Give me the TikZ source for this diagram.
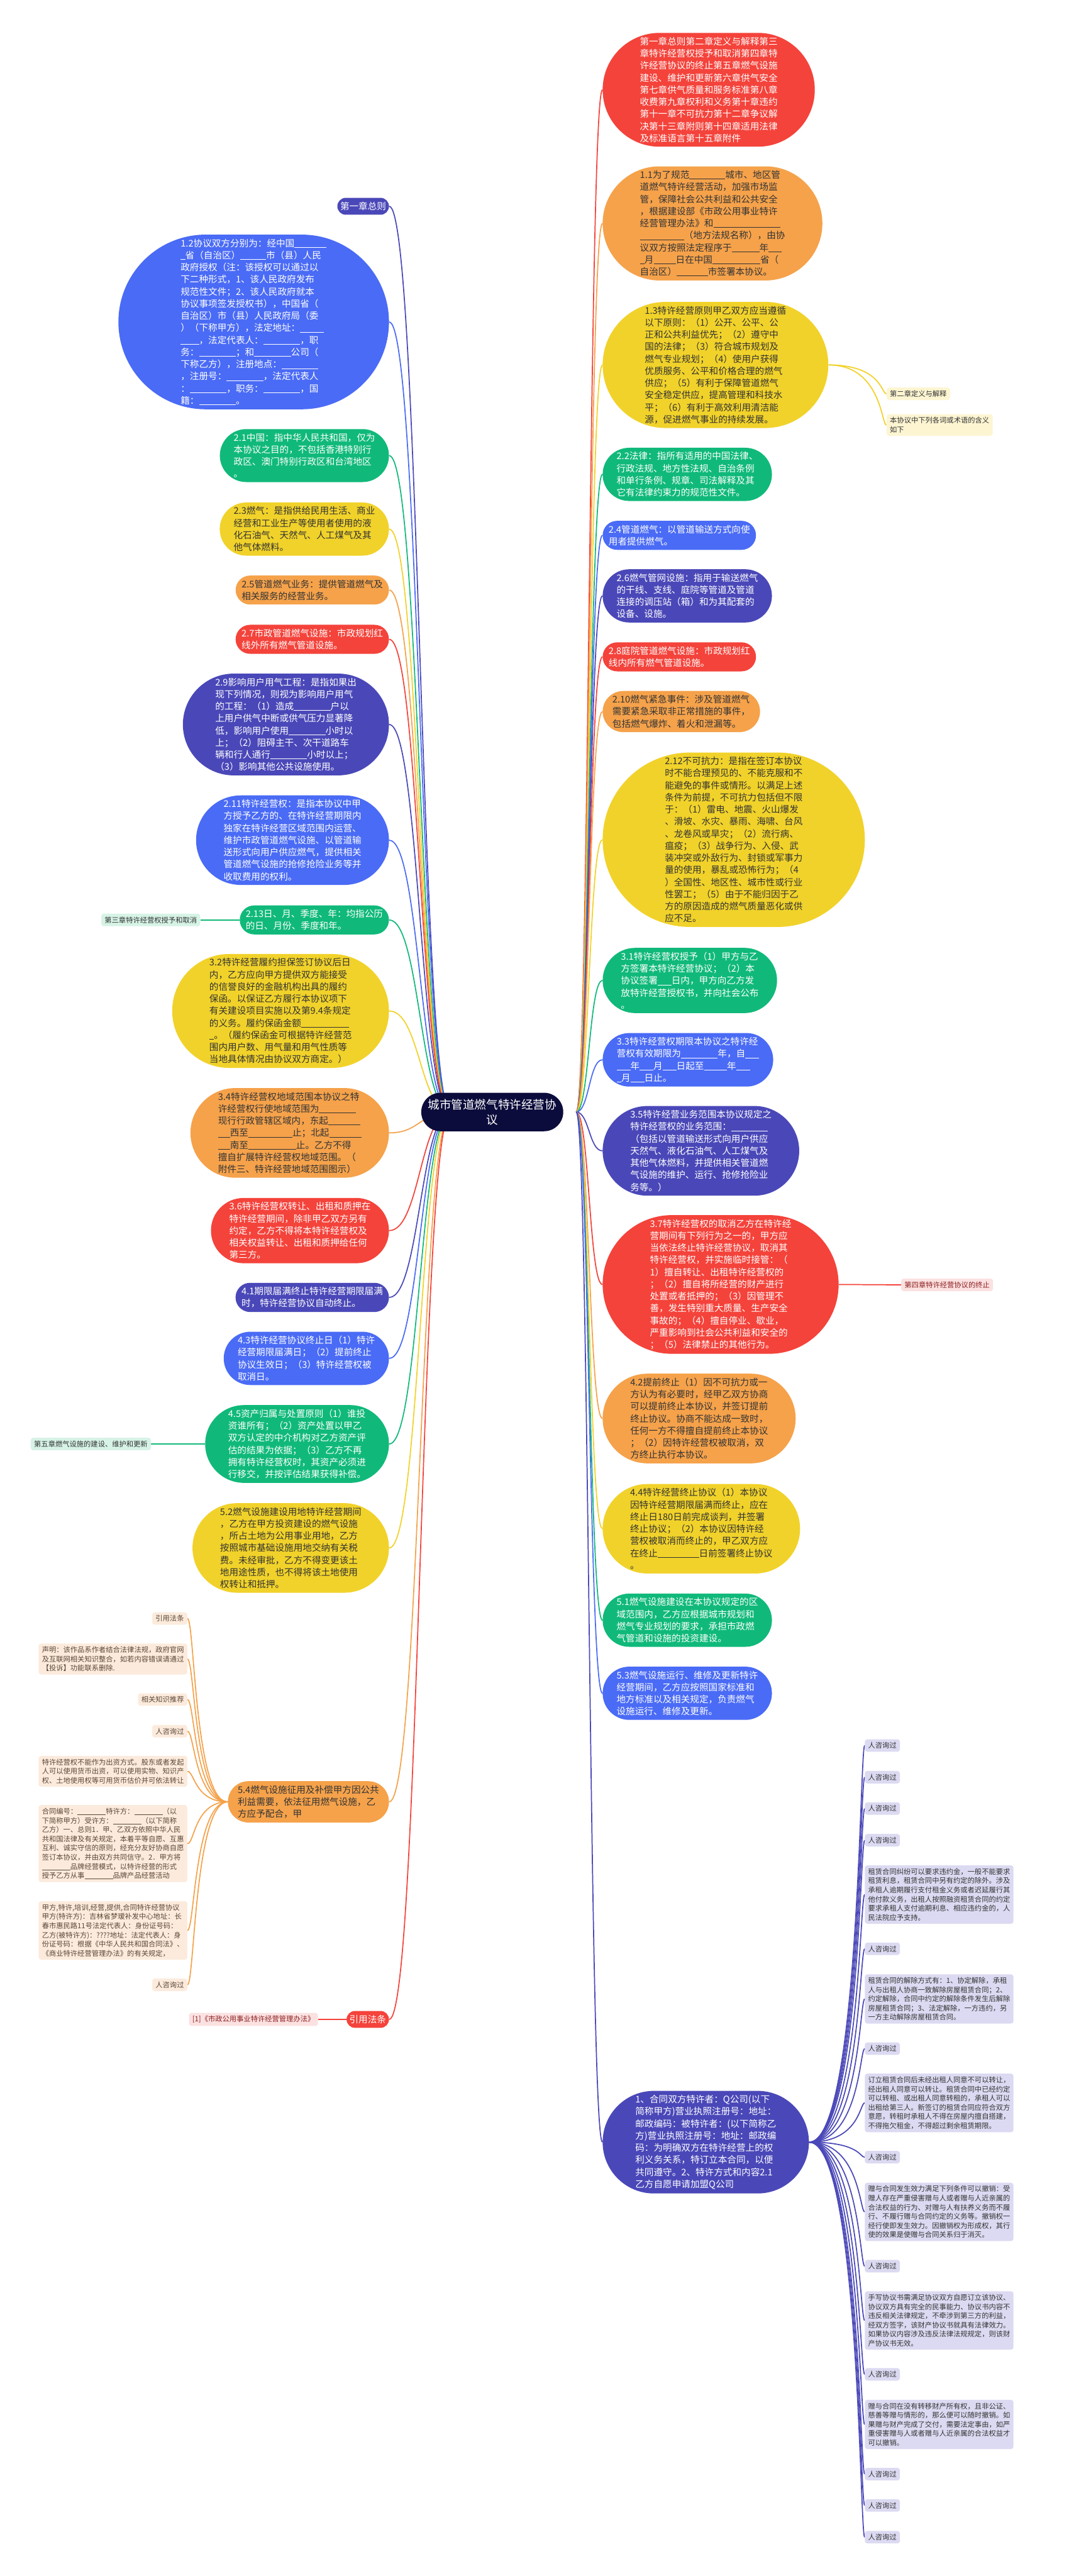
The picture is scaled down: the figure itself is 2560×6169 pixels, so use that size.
\documentclass[tikz,border=0pt]{standalone}
\usepackage{fontspec}
\setmainfont{Noto Sans CJK SC}
\usetikzlibrary{shapes.misc}
\pgfdeclarelayer{bg}
\pgfsetlayers{bg,main}
\definecolor{cred}{HTML}{F4433B}
\definecolor{corange}{HTML}{F5A24B}
\definecolor{cyellow}{HTML}{F1D22A}
\definecolor{cgreen}{HTML}{10B97A}
\definecolor{cblue}{HTML}{4A6BF5}
\definecolor{cindigo}{HTML}{4A48B8}
\definecolor{cnavy}{HTML}{0C0C3C}
\definecolor{txtdark}{HTML}{333333}
\definecolor{peach}{HTML}{FCEBDC}
\definecolor{peachtext}{HTML}{5C4636}
\definecolor{lav}{HTML}{DCDAF2}
\definecolor{pink}{HTML}{FCE1E1}
\definecolor{pinktext}{HTML}{8B1E1E}
\definecolor{mint}{HTML}{D6F3E6}
\definecolor{paleyel}{HTML}{FDF5D2}
\newcommand{\fillin}[1]{\rule[-0.12em]{#1em}{0.06em}}
\begin{document}
\begin{tikzpicture}[x=0.5pt,y=-0.5pt]

\tikzstyle{topic}=[rounded rectangle,inner xsep=2pt,inner ysep=5pt,align=left,font=\fontsize{11}{14.5}\selectfont,text=white];
\tikzstyle{dk}=[text=txtdark];
\tikzstyle{note}=[rounded corners=3pt,inner xsep=4pt,inner ysep=3.5pt,align=left,font=\fontsize{8.5}{11}\selectfont];
\tikzstyle{link}=[line width=1.3pt];

\useasboundingbox (0,0) rectangle (2560,6169);

% centre
\node[topic,fill=cnavy,align=center,inner ysep=7.5pt,font=\fontsize{14}{18}\selectfont] (ctr) at (1179,2663) {城市管道燃气特许经营协\\议};

% right side
\node[topic,fill=cred,anchor=west] (r1) at (1443,215) {第一章总则第二章定义与解释第三\\章特许经营权授予和取消第四章特\\许经营协议的终止第五章燃气设施\\建设、维护和更新第六章供气安全\\第七章供气质量和服务标准第八章\\收费第九章权利和义务第十章违约\\第十一章不可抗力第十二章争议解\\决第十三章附则第十四章适用法律\\及标准语言第十五章附件};
\node[topic,dk,fill=corange,anchor=west] (r2) at (1443,535) {1.1为了规范\fillin{3.9}城市、地区管\\道燃气特许经营活动，加强市场监\\管，保障社会公共利益和公共安全\\，根据建设部《市政公用事业特许\\经营管理办法》和\fillin{7.3}\\\fillin{4.8}（地方法规名称），由协\\议双方按照法定程序于\fillin{3}年\fillin{1.4}\\\fillin{0.5}月\fillin{2.4}日在中国\fillin{5.2}省（\\自治区）\fillin{3.4}市签署本协议。};
\node[topic,dk,fill=cyellow,anchor=west] (r3) at (1443,874) {1.3特许经营原则甲乙双方应当遵循\\以下原则：（1）公开、公平、公\\正和公共利益优先；（2）遵守中\\国的法律；（3）符合城市规划及\\燃气专业规划；（4）使用户获得\\优质服务、公平和价格合理的燃气\\供应；（5）有利于保障管道燃气\\安全稳定供应，提高管理和科技水\\平；（6）有利于高效利用清洁能\\源，促进燃气事业的持续发展。};
\node[topic,fill=cgreen,anchor=west] (r4) at (1443,1136) {2.2法律：指所有适用的中国法律、\\行政法规、地方性法规、自治条例\\和单行条例、规章、司法解释及其\\它有法律约束力的规范性文件。};
\node[topic,fill=cblue,anchor=west] (r5) at (1443,1282) {2.4管道燃气：以管道输送方式向使\\用者提供燃气。};
\node[topic,fill=cindigo,anchor=west] (r6) at (1443,1427) {2.6燃气管网设施：指用于输送燃气\\的干线、支线、庭院等管道及管道\\连接的调压站（箱）和为其配套的\\设备、设施。};
\node[topic,fill=cred,anchor=west] (r7) at (1443,1573) {2.8庭院管道燃气设施：市政规划红\\线内所有燃气管道设施。};
\node[topic,dk,fill=corange,anchor=west] (r8) at (1443,1704) {2.10燃气紧急事件：涉及管道燃气\\需要紧急采取非正常措施的事件，\\包括燃气爆炸、着火和泄漏等。};
\node[topic,dk,fill=cyellow,anchor=west] (r9) at (1443,2011) {2.12不可抗力：是指在签订本协议\\时不能合理预见的、不能克服和不\\能避免的事件或情形。以满足上述\\条件为前提，不可抗力包括但不限\\于：（1）雷电、地震、火山爆发\\、滑坡、水灾、暴雨、海啸、台风\\、龙卷风或旱灾；（2）流行病、\\瘟疫；（3）战争行为、入侵、武\\装冲突或外敌行为、封锁或军事力\\量的使用，暴乱或恐怖行为；（4\\）全国性、地区性、城市性或行业\\性罢工；（5）由于不能归因于乙\\方的原因造成的燃气质量恶化或供\\应不足。};
\node[topic,fill=cgreen,anchor=west] (r10) at (1443,2348) {3.1特许经营权授予（1）甲方与乙\\方签署本特许经营协议；（2）本\\协议签署\fillin{1.5}日内，甲方向乙方发\\放特许经营授权书，并向社会公布\\。};
\node[topic,fill=cblue,anchor=west] (r11) at (1443,2538) {3.3特许经营权期限本协议之特许经\\营权有效期限为\fillin{4}年，自\fillin{1.5}\\\fillin{1.5}年\fillin{1.5}月\fillin{1.5}日起至\fillin{2.5}年\fillin{1.5}\\\fillin{0.5}月\fillin{1.5}日止。};
\node[topic,fill=cindigo,anchor=west] (r12) at (1443,2756) {3.5特许经营业务范围本协议规定之\\特许经营权的业务范围：\fillin{4}\\（包括以管道输送形式向用户供应\\天然气、液化石油气、人工煤气及\\其他气体燃料，并提供相关管道燃\\气设施的维护、运行、抢修抢险业\\务等。）};
\node[topic,fill=cred,anchor=west] (r13) at (1443,3076) {3.7特许经营权的取消乙方在特许经\\营期间有下列行为之一的，甲方应\\当依法终止特许经营协议，取消其\\特许经营权，并实施临时接管：（\\1）擅自转让、出租特许经营权的\\；（2）擅自将所经营的财产进行\\处置或者抵押的；（3）因管理不\\善，发生特别重大质量、生产安全\\事故的；（4）擅自停业、歇业，\\严重影响到社会公共利益和安全的\\；（5）法律禁止的其他行为。};
\node[topic,dk,fill=corange,anchor=west] (r14) at (1443,3397) {4.2提前终止（1）因不可抗力或一\\方认为有必要时，经甲乙双方协商\\可以提前终止本协议，并签订提前\\终止协议。协商不能达成一致时，\\任何一方不得擅自提前终止本协议\\；（2）因特许经营权被取消，双\\方终止执行本协议。};
\node[topic,dk,fill=cyellow,anchor=west] (r15) at (1443,3661) {4.4特许经营终止协议（1）本协议\\因特许经营期限届满而终止，应在\\终止日180日前完成谈判，并签署\\终止协议；（2）本协议因特许经\\营权被取消而终止的，甲乙双方应\\在终止\fillin{4.5}日前签署终止协议\\。};
\node[topic,fill=cgreen,anchor=west] (r16) at (1443,3880) {5.1燃气设施建设在本协议规定的区\\域范围内，乙方应根据城市规划和\\燃气专业规划的要求，承担市政燃\\气管道和设施的投资建设。};
\node[topic,fill=cblue,anchor=west] (r17) at (1443,4055) {5.3燃气设施运行、维修及更新特许\\经营期间，乙方应按照国家标准和\\地方标准以及相关规定，负责燃气\\设施运行、维修及更新。};
\node[topic,fill=cindigo,anchor=west] (r18) at (1443,5130) {1、合同双方特许者：Q公司(以下\\简称甲方)营业执照注册号：地址：\\邮政编码：被特许者：(以下简称乙\\方)营业执照注册号：地址：邮政编\\码：为明确双方在特许经营上的权\\利义务关系，特订立本合同，以便\\共同遵守。2、特许方式和内容2.1\\乙方自愿申请加盟Q公司};

\node[note,fill=paleyel,text=txtdark,anchor=west] (r3a) at (2123,943) {第二章定义与解释};
\node[note,fill=paleyel,text=txtdark,anchor=west] (r3b) at (2123,1018) {本协议中下列各词或术语的含义\\如下};
\node[note,fill=pink,text=pinktext,anchor=west] (r13a) at (2158,3077) {第四章特许经营协议的终止};

% children of r18
\node[note,fill=lav,text=txtdark,anchor=west] (r18a) at (2071,4180) {人咨询过};
\node[note,fill=lav,text=txtdark,anchor=west] (r18b) at (2071,4256) {人咨询过};
\node[note,fill=lav,text=txtdark,anchor=west] (r18c) at (2071,4331) {人咨询过};
\node[note,fill=lav,text=txtdark,anchor=west] (r18d) at (2071,4407) {人咨询过};
\node[note,fill=lav,text=txtdark,anchor=west] (r18e) at (2071,4537) {租赁合同纠纷可以要求违约金，一般不能要求\\租赁利息，租赁合同中另有约定的除外。涉及\\承租人逾期履行支付租金义务或者迟延履行其\\他付款义务，出租人按照融资租赁合同的约定\\要求承租人支付逾期利息、相应违约金的，人\\民法院应予支持。};
\node[note,fill=lav,text=txtdark,anchor=west] (r18f) at (2071,4667) {人咨询过};
\node[note,fill=lav,text=txtdark,anchor=west] (r18g) at (2071,4787) {租赁合同的解除方式有：1、协定解除，承租\\人与出租人协商一致解除房屋租赁合同；2、\\约定解除，合同中约定的解除条件发生后解除\\房屋租赁合同；3、法定解除，一方违约，另\\一方主动解除房屋租赁合同。};
\node[note,fill=lav,text=txtdark,anchor=west] (r18h) at (2071,4906) {人咨询过};
\node[note,fill=lav,text=txtdark,anchor=west] (r18i) at (2071,5036) {订立租赁合同后未经出租人同意不可以转让，\\经出租人同意可以转让。租赁合同中已经约定\\可以转租、或出租人同意转租的，承租人可以\\出租给第三人。新签订的租赁合同应符合双方\\意愿，转租时承租人不得在房屋内擅自搭建，\\不得拖欠租金，不得超过剩余租赁期限。};
\node[note,fill=lav,text=txtdark,anchor=west] (r18j) at (2071,5166) {人咨询过};
\node[note,fill=lav,text=txtdark,anchor=west] (r18k) at (2071,5297) {赠与合同发生效力满足下列条件可以撤销：受\\赠人存在严重侵害赠与人或者赠与人近亲属的\\合法权益的行为、对赠与人有扶养义务而不履\\行、不履行赠与合同约定的义务等。撤销权一\\经行使即发生效力。因撤销权为形成权，其行\\使的效果是使赠与合同关系归于消灭。};
\node[note,fill=lav,text=txtdark,anchor=west] (r18l) at (2071,5427) {人咨询过};
\node[note,fill=lav,text=txtdark,anchor=west] (r18m) at (2071,5557) {手写协议书需满足协议双方自愿订立该协议、\\协议双方具有完全的民事能力、协议书内容不\\违反相关法律规定，不牵涉到第三方的利益，\\经双方签字，该财产协议书就具有法律效力。\\如果协议内容涉及违反法律法规规定，则该财\\产协议书无效。};
\node[note,fill=lav,text=txtdark,anchor=west] (r18n) at (2071,5686) {人咨询过};
\node[note,fill=lav,text=txtdark,anchor=west] (r18o) at (2071,5806) {赠与合同在没有转移财产所有权，且非公证、\\慈善等赠与情形的，那么便可以随时撤销。如\\果赠与财产完成了交付，需要法定事由，如严\\重侵害赠与人或者赠与人近亲属的合法权益才\\可以撤销。};
\node[note,fill=lav,text=txtdark,anchor=west] (r18p) at (2071,5925) {人咨询过};
\node[note,fill=lav,text=txtdark,anchor=west] (r18q) at (2071,6000) {人咨询过};
\node[note,fill=lav,text=txtdark,anchor=west] (r18r) at (2071,6076) {人咨询过};

% left side
\node[topic,fill=cindigo,anchor=east] (l1) at (932,494) {第一章总则};
\node[topic,fill=cblue,anchor=east] (l2) at (932,771) {1.2协议双方分别为：经中国\fillin{3.5}\\\fillin{0.5}省（自治区）\fillin{2.8}市（县）人民\\政府授权（注：该授权可以通过以\\下二种形式，1、该人民政府发布\\规范性文件；2、该人民政府就本\\协议事项签发授权书），中国省（\\自治区）市（县）人民政府局（委\\）（下称甲方），法定地址：\fillin{2.6}\\\fillin{2}，法定代表人：\fillin{4}，职\\务：\fillin{4}；和\fillin{4}公司（\\下称乙方），注册地点：\fillin{4}\\，注册号：\fillin{4}，法定代表人\\：\fillin{4}，职务：\fillin{4}，国\\籍：\fillin{4}。};
\node[topic,fill=cgreen,anchor=east] (l3) at (932,1091) {2.1中国：指中华人民共和国，仅为\\本协议之目的，不包括香港特别行\\政区、澳门特别行政区和台湾地区\\。};
\node[topic,dk,fill=cyellow,anchor=east] (l4) at (932,1267) {2.3燃气：是指供给民用生活、商业\\经营和工业生产等使用者使用的液\\化石油气、天然气、人工煤气及其\\他气体燃料。};
\node[topic,dk,fill=corange,anchor=east] (l5) at (932,1413) {2.5管道燃气业务：提供管道燃气及\\相关服务的经营业务。};
\node[topic,fill=cred,anchor=east] (l6) at (932,1531) {2.7市政管道燃气设施：市政规划红\\线外所有燃气管道设施。};
\node[topic,fill=cindigo,anchor=east] (l7) at (932,1735) {2.9影响用户用气工程：是指如果出\\现下列情况，则视为影响用户用气\\的工程：（1）造成\fillin{4}户以\\上用户供气中断或供气压力显著降\\低，影响用户使用\fillin{4}小时以\\上；（2）阻碍主干、次干道路车\\辆和行人通行\fillin{4}小时以上；\\（3）影响其他公共设施使用。};
\node[topic,fill=cblue,anchor=east] (l8) at (932,2012) {2.11特许经营权：是指本协议中甲\\方授予乙方的、在特许经营期限内\\独家在特许经营区域范围内运营、\\维护市政管道燃气设施、以管道输\\送形式向用户供应燃气，提供相关\\管道燃气设施的抢修抢险业务等并\\收取费用的权利。};
\node[topic,fill=cgreen,anchor=east] (l9) at (932,2203) {2.13日、月、季度、年：均指公历\\的日、月份、季度和年。};
\node[topic,dk,fill=cyellow,anchor=east] (l10) at (932,2421) {3.2特许经营履约担保签订协议后日\\内，乙方应向甲方提供双方能接受\\的信誉良好的金融机构出具的履约\\保函。以保证乙方履行本协议项下\\有关建设项目实施以及第9.4条规定\\的义务。履约保函金额\fillin{5.2}\\\fillin{0.5}。（履约保函金可根据特许经营范\\围内用户数、用气量和用气性质等\\当地具体情况由协议双方商定。）};
\node[topic,dk,fill=corange,anchor=east] (l11) at (932,2713) {3.4特许经营权地域范围本协议之特\\许经营权行使地域范围为\fillin{4}\\现行行政管辖区域内，东起\fillin{3.5}\\\fillin{1.3}西至\fillin{4.8}止；北起\fillin{3.5}\\\fillin{1.3}南至\fillin{5.2}止。乙方不得\\擅自扩展特许经营权地域范围。（\\附件三、特许经营地域范围图示）};
\node[topic,fill=cred,anchor=east] (l12) at (932,2947) {3.6特许经营权转让、出租和质押在\\特许经营期间，除非甲乙双方另有\\约定，乙方不得将本特许经营权及\\相关权益转让、出租和质押给任何\\第三方。};
\node[topic,fill=cindigo,anchor=east] (l13) at (932,3107) {4.1期限届满终止特许经营期限届满\\时，特许经营协议自动终止。};
\node[topic,fill=cblue,anchor=east] (l14) at (932,3253) {4.3特许经营协议终止日（1）特许\\经营期限届满日；（2）提前终止\\协议生效日；（3）特许经营权被\\取消日。};
\node[topic,fill=cgreen,anchor=east] (l15) at (932,3458) {4.5资产归属与处置原则（1）谁投\\资谁所有；（2）资产处置以甲乙\\双方认定的中介机构对乙方资产评\\估的结果为依据；（3）乙方不再\\拥有特许经营权时，其资产必须进\\行移交，并按评估结果获得补偿。};
\node[topic,dk,fill=cyellow,anchor=east] (l16) at (932,3707) {5.2燃气设施建设用地特许经营期间\\，乙方在甲方投资建设的燃气设施\\，所占土地为公用事业用地，乙方\\按照城市基础设施用地交纳有关税\\费。未经审批，乙方不得变更该土\\地用途性质，也不得将该土地使用\\权转让和抵押。};
\node[topic,dk,fill=corange,anchor=east] (l17) at (932,4315) {5.4燃气设施征用及补偿甲方因公共\\利益需要，依法征用燃气设施，乙\\方应予配合，甲};
\node[topic,fill=cred,anchor=east] (l18) at (932,4836) {引用法条};

\node[note,fill=mint,text=txtdark,anchor=east] (l9a) at (480,2203) {第三章特许经营权授予和取消};
\node[note,fill=mint,text=txtdark,anchor=east] (l15a) at (362,3458) {第五章燃气设施的建设、维护和更新};
\node[note,fill=pink,text=pinktext,anchor=east] (l18a) at (762,4836) {[1]《市政公用事业特许经营管理办法》};

% children of l17
\node[note,fill=peach,text=peachtext,anchor=east] (l17a) at (449,3876) {引用法条};
\node[note,fill=peach,text=peachtext,anchor=east] (l17b) at (449,3973) {声明：该作品系作者结合法律法规，政府官网\\及互联网相关知识整合，如若内容错误请通过\\【投诉】功能联系删除.};
\node[note,fill=peach,text=peachtext,anchor=east] (l17c) at (449,4070) {相关知识推荐};
\node[note,fill=peach,text=peachtext,anchor=east] (l17d) at (449,4146) {人咨询过};
\node[note,fill=peach,text=peachtext,anchor=east] (l17e) at (449,4242) {特许经营权不能作为出资方式。股东或者发起\\人可以使用货币出资，可以使用实物、知识产\\权、土地使用权等可用货币估价并可依法转让};
\node[note,fill=peach,text=peachtext,anchor=east] (l17f) at (449,4415) {合同编号：\fillin{4}特许方：\fillin{4}（以\\下简称甲方）受许方：\fillin{4}（以下简称\\乙方）一、总则1．甲、乙双方依照中华人民\\共和国法律及有关规定，本着平等自愿、互惠\\互利、诚实守信的原则，经充分友好协商自愿\\签订本协议，并由双方共同信守。2．甲方将\\\fillin{4}品牌经营模式，以特许经营的形式\\授予乙方从事\fillin{4}品牌产品经营活动};
\node[note,fill=peach,text=peachtext,anchor=east] (l17g) at (449,4623) {甲方,特许,培训,经营,提供,合同特许经营协议\\甲方(特许方)：吉林省梦瑷补发中心地址：长\\春市惠民路11号法定代表人：身份证号码：\\乙方(被特许方)：????地址：法定代表人：身\\份证号码：根据《中华人民共和国合同法》、\\《商业特许经营管理办法》的有关规定，};
\node[note,fill=peach,text=peachtext,anchor=east] (l17h) at (449,4753) {人咨询过};

\begin{pgfonlayer}{bg}
\fill[white] (0,0) rectangle (2560,6169);
% centre to right
\draw[link,cred] (1380,2663) .. controls (1411,2663) and (1411,215) .. (r1.west);
\draw[link,corange] (1380,2663) .. controls (1411,2663) and (1411,535) .. (r2.west);
\draw[link,cyellow] (1380,2663) .. controls (1411,2663) and (1411,874) .. (r3.west);
\draw[link,cgreen] (1380,2663) .. controls (1411,2663) and (1411,1136) .. (r4.west);
\draw[link,cblue] (1380,2663) .. controls (1411,2663) and (1411,1282) .. (r5.west);
\draw[link,cindigo] (1380,2663) .. controls (1411,2663) and (1411,1427) .. (r6.west);
\draw[link,cred] (1380,2663) .. controls (1411,2663) and (1411,1573) .. (r7.west);
\draw[link,corange] (1380,2663) .. controls (1411,2663) and (1411,1704) .. (r8.west);
\draw[link,cyellow] (1380,2663) .. controls (1411,2663) and (1411,2011) .. (r9.west);
\draw[link,cgreen] (1380,2663) .. controls (1411,2663) and (1411,2348) .. (r10.west);
\draw[link,cblue] (1380,2663) .. controls (1411,2663) and (1411,2538) .. (r11.west);
\draw[link,cindigo] (1380,2663) .. controls (1411,2663) and (1411,2756) .. (r12.west);
\draw[link,cred] (1380,2663) .. controls (1411,2663) and (1411,3076) .. (r13.west);
\draw[link,corange] (1380,2663) .. controls (1411,2663) and (1411,3397) .. (r14.west);
\draw[link,cyellow] (1380,2663) .. controls (1411,2663) and (1411,3661) .. (r15.west);
\draw[link,cgreen] (1380,2663) .. controls (1411,2663) and (1411,3880) .. (r16.west);
\draw[link,cblue] (1380,2663) .. controls (1411,2663) and (1411,4055) .. (r17.west);
\draw[link,cindigo] (1380,2663) .. controls (1411,2663) and (1411,5130) .. (r18.west);
% centre to left
\draw[link,cindigo] (l1.east) .. controls (1006,494) and (1006,2663) .. (1080,2663);
\draw[link,cblue] (l2.east) .. controls (1006,771) and (1006,2663) .. (1080,2663);
\draw[link,cgreen] (l3.east) .. controls (1006,1091) and (1006,2663) .. (1080,2663);
\draw[link,cyellow] (l4.east) .. controls (1006,1267) and (1006,2663) .. (1080,2663);
\draw[link,corange] (l5.east) .. controls (1006,1413) and (1006,2663) .. (1080,2663);
\draw[link,cred] (l6.east) .. controls (1006,1531) and (1006,2663) .. (1080,2663);
\draw[link,cindigo] (l7.east) .. controls (1006,1735) and (1006,2663) .. (1080,2663);
\draw[link,cblue] (l8.east) .. controls (1006,2012) and (1006,2663) .. (1080,2663);
\draw[link,cgreen] (l9.east) .. controls (1006,2203) and (1006,2663) .. (1080,2663);
\draw[link,cyellow] (l10.east) .. controls (1006,2421) and (1006,2663) .. (1080,2663);
\draw[link,corange] (l11.east) .. controls (1006,2713) and (1006,2663) .. (1080,2663);
\draw[link,cred] (l12.east) .. controls (1006,2947) and (1006,2663) .. (1080,2663);
\draw[link,cindigo] (l13.east) .. controls (1006,3107) and (1006,2663) .. (1080,2663);
\draw[link,cblue] (l14.east) .. controls (1006,3253) and (1006,2663) .. (1080,2663);
\draw[link,cgreen] (l15.east) .. controls (1006,3458) and (1006,2663) .. (1080,2663);
\draw[link,cyellow] (l16.east) .. controls (1006,3707) and (1006,2663) .. (1080,2663);
\draw[link,corange] (l17.east) .. controls (1006,4315) and (1006,2663) .. (1080,2663);
\draw[link,cred] (l18.east) .. controls (1006,4836) and (1006,2663) .. (1080,2663);
% small children
\draw[link,cyellow] (r3.east) .. controls (2111,874) and (2111,943) .. (r3a.west);
\draw[link,cyellow] (r3.east) .. controls (2111,874) and (2111,1018) .. (r3b.west);
\draw[link,cred] (r13.east) -- (r13a.west);
\draw[link,cgreen] (l9.west) -- (l9a.east);
\draw[link,cgreen] (l15.west) -- (l15a.east);
\draw[link,cred] (l18.west) -- (l18a.east);
\draw[link,corange] (l17.west) .. controls (466,4315) and (466,3876) .. (l17a.east);
\draw[link,corange] (l17.west) .. controls (466,4315) and (466,3973) .. (l17b.east);
\draw[link,corange] (l17.west) .. controls (466,4315) and (466,4070) .. (l17c.east);
\draw[link,corange] (l17.west) .. controls (466,4315) and (466,4146) .. (l17d.east);
\draw[link,corange] (l17.west) .. controls (466,4315) and (466,4242) .. (l17e.east);
\draw[link,corange] (l17.west) .. controls (466,4315) and (466,4415) .. (l17f.east);
\draw[link,corange] (l17.west) .. controls (466,4315) and (466,4623) .. (l17g.east);
\draw[link,corange] (l17.west) .. controls (466,4315) and (466,4753) .. (l17h.east);
\draw[link,cindigo] (r18.east) .. controls (2059,5130) and (2059,4180) .. (r18a.west);
\draw[link,cindigo] (r18.east) .. controls (2059,5130) and (2059,4256) .. (r18b.west);
\draw[link,cindigo] (r18.east) .. controls (2059,5130) and (2059,4331) .. (r18c.west);
\draw[link,cindigo] (r18.east) .. controls (2059,5130) and (2059,4407) .. (r18d.west);
\draw[link,cindigo] (r18.east) .. controls (2059,5130) and (2059,4537) .. (r18e.west);
\draw[link,cindigo] (r18.east) .. controls (2059,5130) and (2059,4667) .. (r18f.west);
\draw[link,cindigo] (r18.east) .. controls (2059,5130) and (2059,4787) .. (r18g.west);
\draw[link,cindigo] (r18.east) .. controls (2059,5130) and (2059,4906) .. (r18h.west);
\draw[link,cindigo] (r18.east) .. controls (2059,5130) and (2059,5036) .. (r18i.west);
\draw[link,cindigo] (r18.east) .. controls (2059,5130) and (2059,5166) .. (r18j.west);
\draw[link,cindigo] (r18.east) .. controls (2059,5130) and (2059,5297) .. (r18k.west);
\draw[link,cindigo] (r18.east) .. controls (2059,5130) and (2059,5427) .. (r18l.west);
\draw[link,cindigo] (r18.east) .. controls (2059,5130) and (2059,5557) .. (r18m.west);
\draw[link,cindigo] (r18.east) .. controls (2059,5130) and (2059,5686) .. (r18n.west);
\draw[link,cindigo] (r18.east) .. controls (2059,5130) and (2059,5806) .. (r18o.west);
\draw[link,cindigo] (r18.east) .. controls (2059,5130) and (2059,5925) .. (r18p.west);
\draw[link,cindigo] (r18.east) .. controls (2059,5130) and (2059,6000) .. (r18q.west);
\draw[link,cindigo] (r18.east) .. controls (2059,5130) and (2059,6076) .. (r18r.west);
\end{pgfonlayer}
\end{tikzpicture}
\end{document}
